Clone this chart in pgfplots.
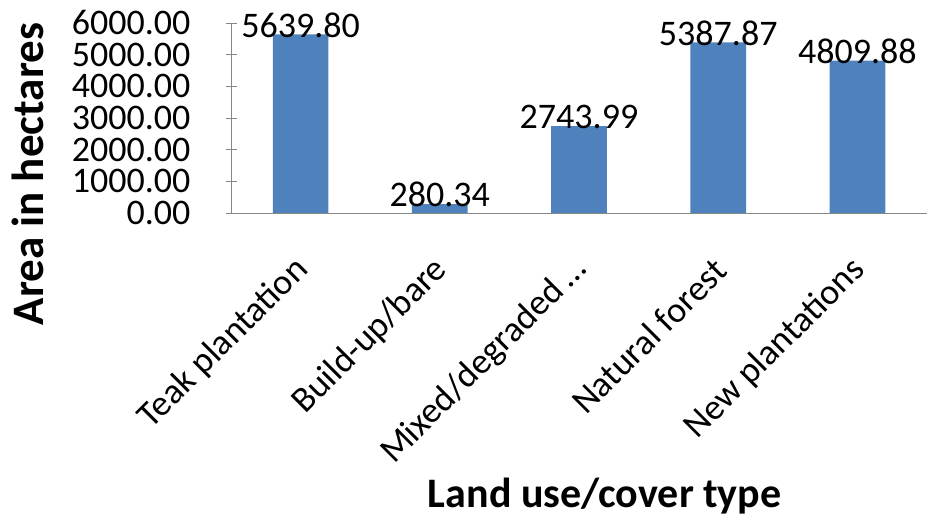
\documentclass[border=0pt]{standalone}
\usepackage{fontspec}
\setmainfont{Carlito}
\usepackage{pgfplots}
\pgfplotsset{compat=1.18}
\definecolor{barblue}{RGB}{79,129,189}
\definecolor{axgray}{RGB}{134,134,134}
\begin{document}
\begin{tikzpicture}
\begin{axis}[
    at={(115.5pt,152.5pt)}, anchor=south west,
    scale only axis,
    width=348pt, height=95pt,
    ybar,
    bar width=0.4,
    xmin=-0.5, xmax=4.5,
    ymin=0, ymax=6000,
    ytick={0,1000,...,6000},
    xtick={0,1,2,3,4},
    xticklabels={Teak plantation, Build-up/bare, Mixed/degraded\,…, Natural forest, New plantations},
    xtick style={draw=none},
    extra x ticks={-0.5,0.5,1.5,2.5,3.5,4.5},
    extra x tick labels={},
    extra x tick style={draw=axgray, major tick length=5.5pt, tick align=outside},
    ytick style={draw=axgray},
    major tick length=5.5pt,
    tick align=outside,
    axis lines=left,
    axis line style={draw=axgray, -},
    enlargelimits=false,
    clip=false,
    tick label style={font=\fontsize{18}{21}\selectfont, text=black},
    yticklabel={\pgfmathprintnumber[fixed,fixed zerofill,precision=2,1000 sep={},assume math mode=true]{\tick}},
    yticklabel style={anchor=east, xshift=-14pt},
    xticklabel style={anchor=east, xshift=3.5pt, yshift=-20.5pt, rotate=45},
    xlabel={Land use/cover type},
    ylabel={Area in hectares},
    xlabel style={font=\fontsize{21}{24}\selectfont\bfseries, at={(axis description cs:0.537,-1.49)}, anchor=center},
    ylabel style={font=\fontsize{22.5}{26}\selectfont\bfseries, at={(axis description cs:-0.292,0.205)}, anchor=center, rotate=0},
    nodes near coords={\pgfmathprintnumber[fixed,fixed zerofill,precision=2,1000 sep={},assume math mode=true]{\pgfplotspointmeta}},
    nodes near coords style={font=\fontsize{18}{21}\selectfont, text=black, anchor=center, yshift=4.75pt},
]
\addplot[fill=barblue, draw=none] coordinates {
    (0,5639.80) (1,280.34) (2,2743.99) (3,5387.87) (4,4809.88)
};
\end{axis}
\pgfresetboundingbox
\path[use as bounding box] (0,0) rectangle (464.5pt,259pt);
\end{tikzpicture}
\end{document}
